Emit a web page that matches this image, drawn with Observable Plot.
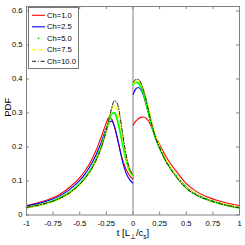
<!DOCTYPE html>
<html>
<head>
<meta charset="utf-8">
<script src="https://cdn.jsdelivr.net/npm/d3@7"></script>
<script src="https://cdn.jsdelivr.net/npm/@observablehq/plot@0.6"></script>
<style>
  html, body { margin: 0; padding: 0; background: #fff; }
  #chart { width: 245px; height: 245px; }
</style>
</head>
<body>
<div id="chart"></div>
<script>
// ---- data ----
const seriesNames = ["Ch=1.0", "Ch=2.5", "Ch=5.0", "Ch=7.5", "Ch=10.0"];
const tLeft  = [-1, -0.9, -0.8, -0.7, -0.6, -0.5, -0.45, -0.4, -0.35, -0.325, -0.3, -0.275, -0.25, -0.225, -0.2, -0.175, -0.15, -0.125, -0.1, -0.075, -0.05, -0.025, -0.002];
const tRight = [0.002, 0.025, 0.05, 0.075, 0.1, 0.125, 0.15, 0.175, 0.2, 0.25, 0.3, 0.35, 0.4, 0.5, 0.6, 0.7, 0.8, 0.9, 1];

const ch1L  = [0.028, 0.035, 0.045, 0.058, 0.080, 0.110, 0.130, 0.155, 0.188, 0.207, 0.228, 0.250, 0.272, 0.287, 0.282, 0.260, 0.228, 0.195, 0.165, 0.142, 0.125, 0.113, 0.106];
const ch25L = [0.026, 0.033, 0.042, 0.054, 0.074, 0.102, 0.121, 0.145, 0.175, 0.193, 0.212, 0.235, 0.256, 0.272, 0.276, 0.262, 0.232, 0.195, 0.160, 0.132, 0.113, 0.101, 0.094];
const ch5L  = [0.022, 0.028, 0.036, 0.048, 0.066, 0.092, 0.110, 0.132, 0.162, 0.180, 0.200, 0.224, 0.250, 0.276, 0.298, 0.300, 0.282, 0.250, 0.212, 0.175, 0.146, 0.127, 0.116];
const ch75L = [0.021, 0.027, 0.035, 0.046, 0.063, 0.089, 0.107, 0.129, 0.158, 0.176, 0.197, 0.222, 0.250, 0.280, 0.308, 0.322, 0.310, 0.278, 0.232, 0.188, 0.152, 0.130, 0.119];
const ch10L = [0.022, 0.028, 0.036, 0.047, 0.064, 0.090, 0.108, 0.130, 0.158, 0.176, 0.196, 0.221, 0.250, 0.283, 0.315, 0.336, 0.330, 0.296, 0.245, 0.195, 0.156, 0.131, 0.119];

const ch1R  = [0.265, 0.275, 0.283, 0.287, 0.288, 0.284, 0.274, 0.258, 0.240, 0.207, 0.177, 0.152, 0.131, 0.092, 0.068, 0.053, 0.042, 0.034, 0.028];
const ch25R = [0.355, 0.370, 0.375, 0.368, 0.350, 0.323, 0.293, 0.263, 0.236, 0.197, 0.164, 0.138, 0.117, 0.082, 0.060, 0.046, 0.036, 0.028, 0.022];
const ch5R  = [0.384, 0.390, 0.388, 0.376, 0.355, 0.327, 0.296, 0.265, 0.238, 0.198, 0.165, 0.139, 0.117, 0.080, 0.059, 0.045, 0.035, 0.027, 0.021];
const ch75R = [0.386, 0.393, 0.394, 0.386, 0.368, 0.342, 0.310, 0.277, 0.247, 0.202, 0.167, 0.140, 0.118, 0.081, 0.060, 0.046, 0.036, 0.028, 0.022];
const ch10R = [0.390, 0.398, 0.399, 0.388, 0.366, 0.336, 0.302, 0.269, 0.240, 0.198, 0.164, 0.137, 0.115, 0.079, 0.058, 0.045, 0.035, 0.027, 0.021];

const xTicks = [-1, -0.75, -0.5, -0.25, 0, 0.25, 0.5, 0.75, 1];
const yTicks = [0, 0.1, 0.2, 0.3, 0.4, 0.5, 0.6];
const xLabel = "t [L⊥/cs]";
const yLabel = "PDF";

// ---- styles ----
const styles = [
  {stroke: "#ff0000", strokeWidth: 1.1, dash: null},
  {stroke: "#0000ff", strokeWidth: 1.1, dash: null},
  {stroke: "#00ff00", strokeWidth: 1.9, dash: "0.9,0.7", dot: true},
  {stroke: "#ffff00", strokeWidth: 1.3, dash: "4,2.5"},
  {stroke: "#000000", strokeWidth: 0.9, dash: "4,1.8,1,1.8"}
];

const leftVals = [ch1L, ch25L, ch5L, ch75L, ch10L];
const rightVals = [ch1R, ch25R, ch5R, ch75R, ch10R];

function seriesRows(i) {
  const rows = [];
  tLeft.forEach((t, j) => rows.push({t, v: leftVals[i][j], side: "L"}));
  tRight.forEach((t, j) => rows.push({t, v: rightVals[i][j], side: "R"}));
  return rows;
}

const W = 245, H = 245;
const mL = 26, mR = 6, mT = 6, mB = 30.5;
const frameW = W - mL - mR, frameH = H - mT - mB;
const tick = 3;
const gray = "#808080";

const lineMarks = seriesNames.map((name, i) => Plot.line(seriesRows(i), {
  x: "t", y: "v", z: "side",
  stroke: styles[i].stroke,
  strokeWidth: styles[i].strokeWidth,
  strokeDasharray: styles[i].dash,
  curve: "monotone-x"
}));

const chart = Plot.plot({
  width: W, height: H,
  marginLeft: mL, marginRight: mR, marginTop: mT, marginBottom: mB,
  style: {fontFamily: "'Liberation Sans', Arial, sans-serif", fontSize: "7.6px", background: "#fff", color: "#000"},
  x: {domain: [-1, 1]},
  y: {domain: [0, 0.613]},
  marks: [
    Plot.ruleX([0], {stroke: gray, strokeWidth: 1}),
    ...lineMarks,
    // inward ticks on all four sides
    Plot.ruleX(xTicks, {stroke: gray, insetTop: frameH - tick}),
    Plot.ruleX(xTicks, {stroke: gray, insetBottom: frameH - tick}),
    Plot.ruleY(yTicks, {stroke: gray, insetRight: frameW - tick}),
    Plot.ruleY(yTicks, {stroke: gray, insetLeft: frameW - tick}),
    Plot.frame({stroke: gray, strokeWidth: 1}),
    Plot.axisX(xTicks, {tickSize: 0, tickPadding: 5.5, tickFormat: d => String(d), label: null, fill: "#000"}),
    Plot.axisY(yTicks, {tickSize: 0, tickPadding: 4, tickFormat: d => String(d), label: null, fill: "#000"}),
    Plot.text([xLabel], {frameAnchor: "bottom", dy: 21, fontSize: 9.5, fill: "#000"}),
    Plot.text([yLabel], {frameAnchor: "left", dx: -19, dy: 6, rotate: -90, fontSize: 9.5, fill: "#000"})
  ]
});

document.getElementById("chart").appendChild(chart);

// subscripts in the x label
const svg = d3.select(chart);
svg.selectAll("text").filter(function() { return this.textContent === xLabel; }).each(function() {
  const t = d3.select(this);
  t.text(null);
  t.append("tspan").text("t [L");
  t.append("tspan").attr("font-size", "6.5px").attr("dy", "2.5").text("⊥");
  t.append("tspan").attr("dy", "-2.5").text("/c");
  t.append("tspan").attr("font-size", "6.5px").attr("dy", "2.5").text("s");
  t.append("tspan").attr("dy", "-2.5").text("]");
});

// legend (box in the upper left of the frame)
const lg = svg.append("g").attr("transform", `translate(${mL + 2.5},${mT + 1.5})`)
  .attr("font-family", "'Liberation Sans', Arial, sans-serif").attr("font-size", "7.6px")
  .attr("text-anchor", "start");
lg.append("rect").attr("width", 50).attr("height", 61).attr("fill", "#fff").attr("stroke", "#555").attr("stroke-width", 0.8);
seriesNames.forEach((name, i) => {
  const yy = 7.8 + i * 11.5;
  if (styles[i].dot) {
    lg.append("circle").attr("cx", 10).attr("cy", yy).attr("r", 1).attr("fill", styles[i].stroke);
  } else {
    lg.append("line").attr("x1", 3.5).attr("x2", 16.5).attr("y1", yy).attr("y2", yy)
      .attr("stroke", styles[i].stroke).attr("stroke-width", styles[i].strokeWidth)
      .attr("stroke-dasharray", styles[i].dash);
  }
  lg.append("text").attr("x", 18.5).attr("y", yy).attr("dy", "0.35em").attr("text-anchor", "start").attr("fill", "#000").text(name);
});
</script>
</body>
</html>
